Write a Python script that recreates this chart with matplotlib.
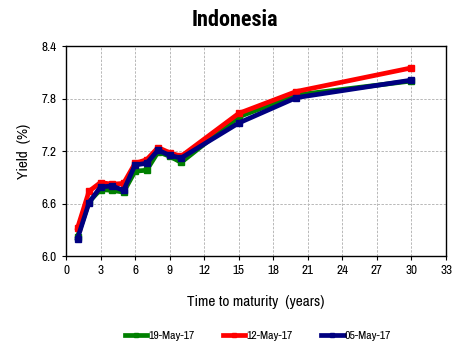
import matplotlib
matplotlib.use("Agg")
import matplotlib.pyplot as plt
from matplotlib import font_manager

fams = set(f.name for f in font_manager.fontManager.ttflist)
body = "Archivo Narrow" if "Archivo Narrow" in fams else "Liberation Sans"
title_font = next((n for n in ["Roboto Condensed", "Archivo Narrow", "Liberation Sans"] if n in fams), "DejaVu Sans")
plt.rcParams['font.family'] = [body, 'DejaVu Sans']

maturity = [1, 2, 3, 4, 5, 6, 7, 8, 9, 10, 15, 20, 30]
may19 = [6.22, 6.62, 6.76, 6.75, 6.73, 6.97, 6.98, 7.19, 7.14, 7.07, 7.59, 7.84, 8.00]
may12 = [6.32, 6.74, 6.84, 6.82, 6.83, 7.06, 7.10, 7.24, 7.18, 7.14, 7.63, 7.88, 8.15]
may05 = [6.20, 6.61, 6.79, 6.80, 6.75, 7.04, 7.06, 7.21, 7.15, 7.12, 7.52, 7.81, 8.01]
labels = ["19-May-17", "12-May-17", "05-May-17"]
colors = ["#008000", "#FF0000", "#000080"]
xticks = list(range(0, 34, 3))
yticks = [6.0, 6.6, 7.2, 7.8, 8.4]

fig = plt.figure(figsize=(4.69, 3.45), dpi=100)
ax = fig.add_axes([66/469, 1-256/345, (446-66)/469, (256-46)/345])

for ys, lab, c in zip([may19, may12, may05], labels, colors):
    ax.plot(maturity, ys, color=c, lw=3.4, marker='s', ms=5, label=lab)

ax.set_xlim(0, 33)
ax.set_ylim(6.0, 8.4)
ax.set_xticks(xticks)
ax.set_yticks(yticks)
ax.set_yticklabels([f"{v:.1f}" for v in yticks])
ax.tick_params(labelsize=9.5, length=3, direction='out')
ax.grid(True, color='#b8b8b8', linestyle=(0, (2.5, 1.5)), lw=0.7)
for s in ax.spines.values():
    s.set_linewidth(1.0)
    s.set_color('black')

ax.set_xlabel("Time to maturity  (years)", fontsize=11, labelpad=14)
ax.set_ylabel("Yield  (%)", fontsize=11, labelpad=8)
fig.text(0.5, 1-20/345, "Indonesia", ha='center', va='center', fontsize=16,
         fontweight='bold', family=[title_font, 'DejaVu Sans'])

fig.legend(loc='center', bbox_to_anchor=(0.55, 1-336/345), ncol=3, frameon=False,
           fontsize=8.5, handlelength=1.9, columnspacing=2.4, handletextpad=0.1,
           markerscale=0.7)

fig.savefig("out.png", dpi=100)
